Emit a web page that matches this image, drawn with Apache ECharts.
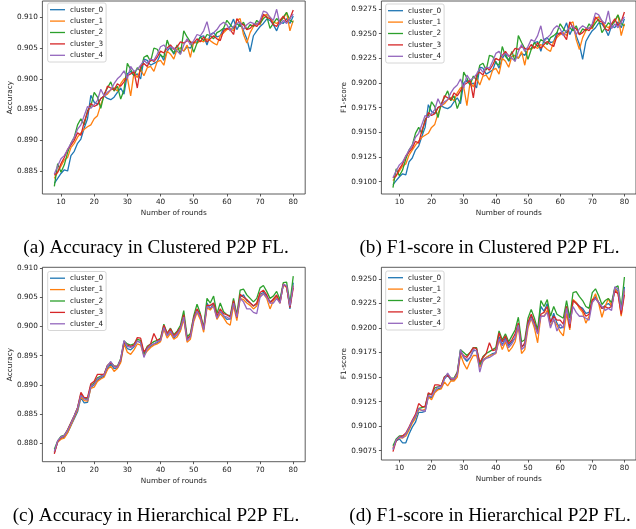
<!DOCTYPE html>
<html><head><meta charset="utf-8">
<script src="https://cdn.jsdelivr.net/npm/echarts@6/dist/echarts.min.js"></script>
<style>html,body{margin:0;padding:0;background:#fff}#c{width:636px;height:529px}</style>
</head><body><div id="c"></div>
<script>
const rounds = [8,9,10,11,12,13,14,15,16,17,18,19,20,21,22,23,24,25,26,27,28,29,30,31,32,33,34,35,36,37,38,39,40,41,42,43,44,45,46,47,48,49,50,51,52,53,54,55,56,57,58,59,60,61,62,63,64,65,66,67,68,69,70,71,72,73,74,75,76,77,78,79,80];
const clusterNames = ['cluster_0','cluster_1','cluster_2','cluster_3','cluster_4'];
const xTicks = [10,20,30,40,50,60,70,80];
const yTicksA = [0.885,0.890,0.895,0.900,0.905,0.910];
const yTicksB = [0.9100,0.9125,0.9150,0.9175,0.9200,0.9225,0.9250,0.9275];
const yTicksC = [0.880,0.885,0.890,0.895,0.900,0.905,0.910];
const yTicksD = [0.9075,0.9100,0.9125,0.9150,0.9175,0.9200,0.9225,0.9250];
const captions = ['(a) Accuracy in Clustered P2P FL.','(b) F1-score in Clustered P2P FL.','(c) Accuracy in Hierarchical P2P FL.','(d) F1-score in Hierarchical P2P FL.'];

// (a) Accuracy, Clustered
const accClu0 = [0.8830,0.8838,0.8846,0.8852,0.8850,0.8875,0.8882,0.8895,0.8902,0.8920,0.8935,0.8973,0.8962,0.8958,0.8968,0.8972,0.8968,0.8966,0.8970,0.8978,0.8985,0.8975,0.9008,0.9012,0.9005,0.9008,0.9000,0.9032,0.9030,0.9022,0.9025,0.9028,0.9040,0.9030,0.9045,0.9052,0.9040,0.9048,0.9050,0.9045,0.9052,0.9050,0.9058,0.9060,0.9068,0.9070,0.9055,0.9072,0.9075,0.9068,0.9070,0.9082,0.9080,0.9085,0.9097,0.9080,0.9090,0.9078,0.9065,0.9044,0.9070,0.9078,0.9085,0.9090,0.9097,0.9095,0.9088,0.9078,0.9092,0.9090,0.9098,0.9090,0.9102];
const accClu1 = [0.8838,0.8848,0.8858,0.8868,0.8872,0.8888,0.8895,0.8905,0.8912,0.8918,0.8922,0.8925,0.8935,0.8940,0.8958,0.8972,0.8975,0.8982,0.8985,0.8980,0.8992,0.9000,0.9002,0.8972,0.9010,0.9002,0.9015,0.9005,0.9018,0.9020,0.9012,0.9028,0.9030,0.9022,0.9045,0.9040,0.9032,0.9048,0.9050,0.9045,0.9055,0.9035,0.9060,0.9058,0.9062,0.9060,0.9065,0.9062,0.9058,0.9055,0.9070,0.9075,0.9080,0.9082,0.9078,0.9095,0.9098,0.9072,0.9058,0.9075,0.9085,0.9090,0.9088,0.9102,0.9105,0.9100,0.9092,0.9090,0.9095,0.9098,0.9108,0.9078,0.9095];
const accClu2 = [0.8825,0.8862,0.8848,0.8860,0.8880,0.8895,0.8905,0.8925,0.8935,0.8925,0.8948,0.8955,0.8978,0.8970,0.8952,0.8975,0.8985,0.8995,0.8980,0.8988,0.8967,0.8982,0.9025,0.9015,0.9005,0.9018,0.9012,0.9035,0.9038,0.9028,0.9050,0.9048,0.9038,0.9035,0.9063,0.9048,0.9042,0.9055,0.9040,0.9078,0.9068,0.9060,0.9043,0.9058,0.9068,0.9062,0.9072,0.9070,0.9065,0.9075,0.9078,0.9082,0.9095,0.9088,0.9082,0.9090,0.9085,0.9092,0.9080,0.9088,0.9085,0.9095,0.9090,0.9098,0.9102,0.9082,0.9090,0.9098,0.9092,0.9100,0.9108,0.9095,0.9092];
const accClu3 = [0.8843,0.8848,0.8862,0.8872,0.8885,0.8892,0.8900,0.8912,0.8908,0.8930,0.8945,0.8960,0.8955,0.8958,0.8968,0.8972,0.8988,0.8985,0.8982,0.8992,0.8988,0.8995,0.9005,0.9008,0.9012,0.8985,0.9020,0.9025,0.9020,0.9032,0.9028,0.9035,0.9045,0.9042,0.9050,0.9055,0.9048,0.9052,0.9060,0.9058,0.9062,0.9060,0.9058,0.9065,0.9060,0.9068,0.9060,0.9065,0.9070,0.9065,0.9062,0.9078,0.9082,0.9080,0.9072,0.9098,0.9090,0.9088,0.9080,0.9082,0.9088,0.9085,0.9092,0.9105,0.9100,0.9098,0.9088,0.9085,0.9095,0.9102,0.9092,0.9098,0.9112];
const accClu4 = [0.8845,0.8858,0.8870,0.8875,0.8885,0.8895,0.8905,0.8918,0.8925,0.8940,0.8955,0.8952,0.8958,0.8965,0.8983,0.8972,0.8978,0.8982,0.8992,0.9000,0.9005,0.9013,0.9000,0.9020,0.9012,0.9015,0.9022,0.9030,0.9025,0.9032,0.9030,0.9040,0.9052,0.9055,0.9048,0.9052,0.9050,0.9045,0.9040,0.9055,0.9065,0.9055,0.9062,0.9072,0.9070,0.9078,0.9093,0.9070,0.9075,0.9080,0.9088,0.9092,0.9088,0.9078,0.9085,0.9090,0.9092,0.9080,0.9088,0.9092,0.9090,0.9088,0.9095,0.9110,0.9108,0.9100,0.9095,0.9113,0.9088,0.9095,0.9090,0.9098,0.9105];

// (b) F1-score, Clustered
const f1Clu0 = [0.9097,0.9101,0.9105,0.9108,0.9107,0.9120,0.9124,0.9132,0.9136,0.9146,0.9155,0.9178,0.9171,0.9169,0.9175,0.9177,0.9175,0.9174,0.9176,0.9181,0.9185,0.9179,0.9200,0.9203,0.9198,0.9200,0.9195,0.9216,0.9215,0.9209,0.9211,0.9213,0.9222,0.9215,0.9225,0.9230,0.9222,0.9227,0.9228,0.9225,0.9230,0.9228,0.9234,0.9235,0.9241,0.9242,0.9232,0.9244,0.9246,0.9241,0.9242,0.9251,0.9249,0.9253,0.9261,0.9249,0.9256,0.9248,0.9239,0.9224,0.9242,0.9248,0.9253,0.9256,0.9261,0.9260,0.9255,0.9248,0.9258,0.9256,0.9262,0.9256,0.9265];
const f1Clu1 = [0.9101,0.9106,0.9111,0.9116,0.9118,0.9127,0.9132,0.9137,0.9141,0.9145,0.9147,0.9149,0.9155,0.9158,0.9169,0.9177,0.9179,0.9183,0.9185,0.9182,0.9190,0.9195,0.9196,0.9177,0.9201,0.9196,0.9205,0.9198,0.9207,0.9208,0.9203,0.9213,0.9215,0.9209,0.9225,0.9222,0.9216,0.9227,0.9228,0.9225,0.9232,0.9218,0.9235,0.9234,0.9237,0.9235,0.9239,0.9237,0.9234,0.9232,0.9242,0.9246,0.9249,0.9251,0.9248,0.9260,0.9262,0.9244,0.9234,0.9246,0.9253,0.9256,0.9255,0.9265,0.9267,0.9263,0.9258,0.9256,0.9260,0.9262,0.9269,0.9248,0.9260];
const f1Clu2 = [0.9094,0.9113,0.9106,0.9112,0.9123,0.9132,0.9137,0.9149,0.9155,0.9149,0.9163,0.9167,0.9181,0.9176,0.9165,0.9179,0.9185,0.9192,0.9182,0.9187,0.9174,0.9183,0.9211,0.9205,0.9198,0.9207,0.9203,0.9218,0.9220,0.9213,0.9228,0.9227,0.9220,0.9218,0.9237,0.9227,0.9223,0.9232,0.9222,0.9248,0.9241,0.9235,0.9224,0.9234,0.9241,0.9237,0.9244,0.9242,0.9239,0.9246,0.9248,0.9251,0.9260,0.9255,0.9251,0.9256,0.9253,0.9258,0.9249,0.9255,0.9253,0.9260,0.9256,0.9261,0.9265,0.9251,0.9256,0.9261,0.9258,0.9263,0.9269,0.9260,0.9258];
const f1Clu3 = [0.9104,0.9106,0.9113,0.9118,0.9126,0.9130,0.9134,0.9141,0.9139,0.9152,0.9161,0.9170,0.9167,0.9169,0.9175,0.9177,0.9187,0.9185,0.9183,0.9190,0.9187,0.9192,0.9198,0.9200,0.9203,0.9185,0.9208,0.9211,0.9208,0.9216,0.9213,0.9218,0.9225,0.9223,0.9228,0.9232,0.9227,0.9230,0.9235,0.9234,0.9237,0.9235,0.9234,0.9239,0.9235,0.9241,0.9235,0.9239,0.9242,0.9239,0.9237,0.9248,0.9251,0.9249,0.9244,0.9262,0.9256,0.9255,0.9249,0.9251,0.9255,0.9253,0.9258,0.9267,0.9263,0.9262,0.9255,0.9253,0.9260,0.9265,0.9258,0.9262,0.9272];
const f1Clu4 = [0.9104,0.9111,0.9117,0.9120,0.9126,0.9132,0.9137,0.9145,0.9149,0.9158,0.9167,0.9165,0.9169,0.9173,0.9184,0.9177,0.9181,0.9183,0.9190,0.9195,0.9198,0.9204,0.9195,0.9208,0.9203,0.9205,0.9209,0.9215,0.9211,0.9216,0.9215,0.9222,0.9230,0.9232,0.9227,0.9230,0.9228,0.9225,0.9222,0.9232,0.9239,0.9232,0.9237,0.9244,0.9242,0.9248,0.9258,0.9242,0.9246,0.9249,0.9255,0.9258,0.9255,0.9248,0.9253,0.9256,0.9258,0.9249,0.9255,0.9258,0.9256,0.9255,0.9260,0.9271,0.9269,0.9263,0.9260,0.9273,0.9255,0.9260,0.9256,0.9262,0.9267];

// (c) Accuracy, Hierarchical
const accHier0 = [0.8784,0.8802,0.8808,0.8810,0.8818,0.8830,0.8842,0.8854,0.8878,0.8869,0.8870,0.8896,0.8900,0.8908,0.8912,0.8915,0.8928,0.8936,0.8928,0.8929,0.8940,0.8972,0.8962,0.8960,0.8965,0.8975,0.8972,0.8953,0.8962,0.8966,0.8970,0.8972,0.8976,0.8998,0.8984,0.8992,0.8980,0.8986,0.8994,0.9015,0.8980,0.8982,0.9012,0.9028,0.9016,0.8995,0.9040,0.9030,0.9040,0.9015,0.9026,0.9018,0.9012,0.9013,0.9040,0.9016,0.9050,0.9054,0.9044,0.9040,0.9035,0.9038,0.9055,0.9058,0.9052,0.9042,0.9046,0.9052,0.9043,0.9072,0.9068,0.9030,0.9075];
const accHier1 = [0.8785,0.8802,0.8807,0.8809,0.8818,0.8831,0.8844,0.8857,0.8880,0.8873,0.8872,0.8894,0.8896,0.8906,0.8910,0.8913,0.8926,0.8932,0.8923,0.8928,0.8938,0.8970,0.8956,0.8952,0.8960,0.8970,0.8968,0.8950,0.8958,0.8964,0.8968,0.8970,0.8974,0.8995,0.8980,0.8988,0.8978,0.8982,0.8992,0.9012,0.8973,0.8978,0.9008,0.9024,0.9012,0.8990,0.9032,0.9028,0.9036,0.9012,0.9022,0.9015,0.9006,0.9002,0.9036,0.9010,0.9048,0.9046,0.9040,0.9036,0.9030,0.9035,0.9052,0.9056,0.9048,0.9030,0.9044,0.9050,0.9040,0.9073,0.9066,0.9035,0.9070];
const accHier2 = [0.8790,0.8804,0.8812,0.8814,0.8823,0.8835,0.8847,0.8861,0.8884,0.8877,0.8876,0.8899,0.8903,0.8912,0.8915,0.8918,0.8933,0.8939,0.8932,0.8932,0.8945,0.8975,0.8970,0.8968,0.8970,0.8978,0.8976,0.8953,0.8966,0.8970,0.8974,0.8976,0.8980,0.9004,0.8988,0.8997,0.8986,0.8992,0.9002,0.9027,0.8982,0.8988,0.9018,0.9038,0.9022,0.8998,0.9048,0.9040,0.9052,0.9022,0.9040,0.9025,0.9020,0.9018,0.9048,0.9020,0.9062,0.9064,0.9054,0.9048,0.9042,0.9048,0.9066,0.9070,0.9060,0.9048,0.9052,0.9060,0.9046,0.9075,0.9076,0.9040,0.9086];
const accHier3 = [0.8782,0.8803,0.8810,0.8813,0.8823,0.8835,0.8847,0.8861,0.8887,0.8878,0.8878,0.8902,0.8906,0.8918,0.8918,0.8918,0.8933,0.8938,0.8932,0.8931,0.8943,0.8973,0.8968,0.8966,0.8968,0.8981,0.8980,0.8956,0.8964,0.8970,0.8988,0.8976,0.8978,0.9002,0.8988,0.8996,0.8984,0.8990,0.8998,0.9020,0.8978,0.8985,0.9015,0.9030,0.9020,0.8996,0.9036,0.9036,0.9040,0.9018,0.9030,0.9022,0.9020,0.9016,0.9044,0.9015,0.9055,0.9050,0.9046,0.9040,0.9035,0.9040,0.9058,0.9062,0.9054,0.9040,0.9047,0.9054,0.9040,0.9072,0.9068,0.9032,0.9066];
const accHier4 = [0.8786,0.8804,0.8811,0.8813,0.8822,0.8834,0.8847,0.8860,0.8882,0.8876,0.8874,0.8897,0.8901,0.8910,0.8914,0.8917,0.8932,0.8940,0.8931,0.8930,0.8944,0.8976,0.8966,0.8964,0.8966,0.8975,0.8972,0.8947,0.8962,0.8968,0.8970,0.8974,0.8976,0.8998,0.8984,0.8992,0.8982,0.8986,0.8996,0.9016,0.8976,0.8982,0.9012,0.9026,0.9016,0.8994,0.9034,0.9032,0.9034,0.9014,0.9026,0.9018,0.9016,0.9012,0.9040,0.9016,0.9048,0.9042,0.9030,0.9030,0.9024,0.9022,0.9050,0.9056,0.9050,0.9040,0.9040,0.9048,0.9040,0.9072,0.9070,0.9035,0.9070];

// (d) F1-score, Hierarchical
const f1Hier0 = [0.9077,0.9085,0.9087,0.9083,0.9083,0.9092,0.9099,0.9104,0.9114,0.9114,0.9115,0.9130,0.9129,0.9135,0.9138,0.9139,0.9148,0.9152,0.9147,0.9147,0.9152,0.9177,0.9170,0.9166,0.9170,0.9177,0.9177,0.9162,0.9168,0.9170,0.9172,0.9174,0.9175,0.9191,0.9183,0.9190,0.9182,0.9186,0.9190,0.9205,0.9182,0.9182,0.9204,0.9212,0.9204,0.9196,0.9222,0.9217,0.9225,0.9205,0.9215,0.9205,0.9200,0.9201,0.9222,0.9204,0.9228,0.9226,0.9222,0.9220,0.9215,0.9216,0.9228,0.9232,0.9226,0.9220,0.9223,0.9225,0.9222,0.9240,0.9238,0.9216,0.9242];
const f1Hier1 = [0.9078,0.9086,0.9088,0.9088,0.9090,0.9096,0.9103,0.9108,0.9117,0.9116,0.9117,0.9130,0.9127,0.9134,0.9137,0.9138,0.9145,0.9141,0.9146,0.9146,0.9150,0.9173,0.9164,0.9158,0.9166,0.9172,0.9172,0.9160,0.9166,0.9170,0.9172,0.9173,0.9174,0.9188,0.9178,0.9186,0.9176,0.9180,0.9186,0.9202,0.9174,0.9178,0.9200,0.9210,0.9200,0.9185,0.9212,0.9212,0.9218,0.9202,0.9208,0.9203,0.9196,0.9192,0.9215,0.9198,0.9229,0.9226,0.9220,0.9216,0.9205,0.9212,0.9228,0.9235,0.9225,0.9211,0.9222,0.9230,0.9222,0.9240,0.9236,0.9212,0.9238];
const f1Hier2 = [0.9080,0.9087,0.9090,0.9090,0.9092,0.9098,0.9105,0.9110,0.9118,0.9119,0.9120,0.9133,0.9132,0.9139,0.9140,0.9141,0.9150,0.9153,0.9149,0.9149,0.9155,0.9178,0.9175,0.9172,0.9175,0.9180,0.9180,0.9163,0.9171,0.9174,0.9176,0.9178,0.9180,0.9197,0.9188,0.9194,0.9186,0.9192,0.9198,0.9211,0.9186,0.9188,0.9210,0.9219,0.9210,0.9198,0.9228,0.9222,0.9229,0.9212,0.9222,0.9214,0.9212,0.9210,0.9228,0.9210,0.9236,0.9237,0.9232,0.9228,0.9222,0.9220,0.9236,0.9240,0.9233,0.9224,0.9228,0.9230,0.9226,0.9241,0.9243,0.9220,0.9252];
const f1Hier3 = [0.9074,0.9085,0.9089,0.9090,0.9093,0.9099,0.9106,0.9112,0.9123,0.9120,0.9120,0.9134,0.9132,0.9142,0.9142,0.9141,0.9150,0.9152,0.9148,0.9148,0.9154,0.9175,0.9172,0.9170,0.9175,0.9180,0.9179,0.9165,0.9170,0.9174,0.9185,0.9177,0.9178,0.9195,0.9186,0.9192,0.9184,0.9188,0.9194,0.9205,0.9180,0.9185,0.9206,0.9214,0.9206,0.9195,0.9214,0.9216,0.9222,0.9206,0.9212,0.9208,0.9208,0.9204,0.9222,0.9200,0.9228,0.9225,0.9222,0.9218,0.9212,0.9214,0.9229,0.9230,0.9226,0.9220,0.9222,0.9220,0.9222,0.9238,0.9235,0.9214,0.9234];
const f1Hier4 = [0.9076,0.9086,0.9089,0.9088,0.9092,0.9098,0.9105,0.9110,0.9118,0.9116,0.9115,0.9131,0.9130,0.9136,0.9140,0.9140,0.9148,0.9154,0.9149,0.9148,0.9153,0.9178,0.9170,0.9168,0.9170,0.9178,0.9177,0.9155,0.9167,0.9169,0.9170,0.9172,0.9175,0.9189,0.9182,0.9188,0.9180,0.9184,0.9190,0.9203,0.9178,0.9181,0.9203,0.9210,0.9203,0.9194,0.9212,0.9212,0.9216,0.9200,0.9210,0.9197,0.9204,0.9200,0.9220,0.9204,0.9222,0.9216,0.9212,0.9212,0.9210,0.9208,0.9226,0.9230,0.9226,0.9222,0.9218,0.9220,0.9218,0.9242,0.9240,0.9218,0.9240];

const colors = ['#1f77b4','#ff7f0e','#2ca02c','#d62728','#9467bd'];
const FONT = 'DejaVu Sans';
const panels = [
  {grid:{left:42.4, top:1, width:262.8, height:193}, yMin:0.88126, yMax:0.91265, yTicks:yTicksA, dec:3, yName:'Accuracy', yGap:28, legend:{left:47.7, top:3}, series:[accClu0,accClu1,accClu2,accClu3,accClu4], cap:[156,248.3]},
  {grid:{left:381.4, top:1, width:258.3, height:193}, yMin:0.90875, yMax:0.92831, yTicks:yTicksB, dec:4, yName:'F1-score', yGap:31.5, legend:{left:385.7, top:4}, series:[f1Clu0,f1Clu1,f1Clu2,f1Clu3,f1Clu4], cap:[489.5,248.3]},
  {grid:{left:42.4, top:267.3, width:262.8, height:194.4}, yMin:0.87685, yMax:0.91012, yTicks:yTicksC, dec:3, yName:'Accuracy', yGap:28, legend:{left:47.7, top:271.5}, series:[accHier0,accHier1,accHier2,accHier3,accHier4], cap:[156,515.5]},
  {grid:{left:381.4, top:267.3, width:258.3, height:192.7}, yMin:0.90655, yMax:0.92619, yTicks:yTicksD, dec:4, yName:'F1-score', yGap:31.5, legend:{left:385.7, top:271}, series:[f1Hier0,f1Hier1,f1Hier2,f1Hier3,f1Hier4], cap:[490,515.5]}
];

const axisTextStyle = {fontFamily:FONT, fontSize:7.3, color:'#222222'};
const option = {
  animation:false,
  backgroundColor:'#ffffff',
  grid: panels.map(p => Object.assign({show:true, borderColor:'#333333', borderWidth:0.8, backgroundColor:'transparent', containLabel:false}, p.grid)),
  xAxis: panels.map((p,i) => ({
    gridIndex:i, type:'value', min:4.4, max:83.6,
    axisLine:{show:false},
    axisTick:{show:true, inside:false, length:2.5, customValues:xTicks, lineStyle:{color:'#333333', width:0.8}},
    axisLabel:Object.assign({customValues:xTicks, margin:4.5}, axisTextStyle),
    splitLine:{show:false},
    name:'Number of rounds', nameLocation:'middle', nameGap:15.5,
    nameTextStyle:axisTextStyle
  })),
  yAxis: panels.map((p,i) => ({
    gridIndex:i, type:'value', min:p.yMin, max:p.yMax,
    axisLine:{show:false},
    axisTick:{show:true, inside:false, length:2.5, customValues:p.yTicks, lineStyle:{color:'#333333', width:0.8}},
    axisLabel:Object.assign({customValues:p.yTicks, margin:4.5, formatter:v => Number(v).toFixed(p.dec)}, axisTextStyle),
    splitLine:{show:false},
    name:p.yName, nameLocation:'middle', nameGap:p.yGap,
    nameTextStyle:axisTextStyle
  })),
  legend: panels.map(p => ({
    left:p.legend.left, top:p.legend.top, orient:'vertical',
    data:clusterNames, selectedMode:false,
    icon:'rect', itemWidth:15, itemHeight:1.3, itemGap:2.4,
    padding:[2.2,3,2.2,2.3],
    backgroundColor:'rgba(255,255,255,0.85)', borderColor:'#cccccc', borderWidth:0.8, borderRadius:2,
    textStyle:{fontFamily:FONT, fontSize:7.3, color:'#222222', lineHeight:9}
  })),
  series: [],
  graphic: panels.map((p,i) => ({
    type:'text', x:p.cap[0], y:p.cap[1],
    style:{text:captions[i], align:'center', verticalAlign:'middle', fill:'#000', font:'19.2px "Liberation Serif"'}
  }))
};
panels.forEach((p,i) => {
  p.series.forEach((arr,k) => {
    option.series.push({
      type:'line', name:clusterNames[k], xAxisIndex:i, yAxisIndex:i,
      data:rounds.map((r,j) => [r, arr[j]]),
      symbol:'none', showSymbol:false, clip:true,
      lineStyle:{width:1.3, color:colors[k]}, itemStyle:{color:colors[k]},
      emphasis:{disabled:true}
    });
  });
});
const chart = echarts.init(document.getElementById('c'));
chart.setOption(option);
</script></body></html>
